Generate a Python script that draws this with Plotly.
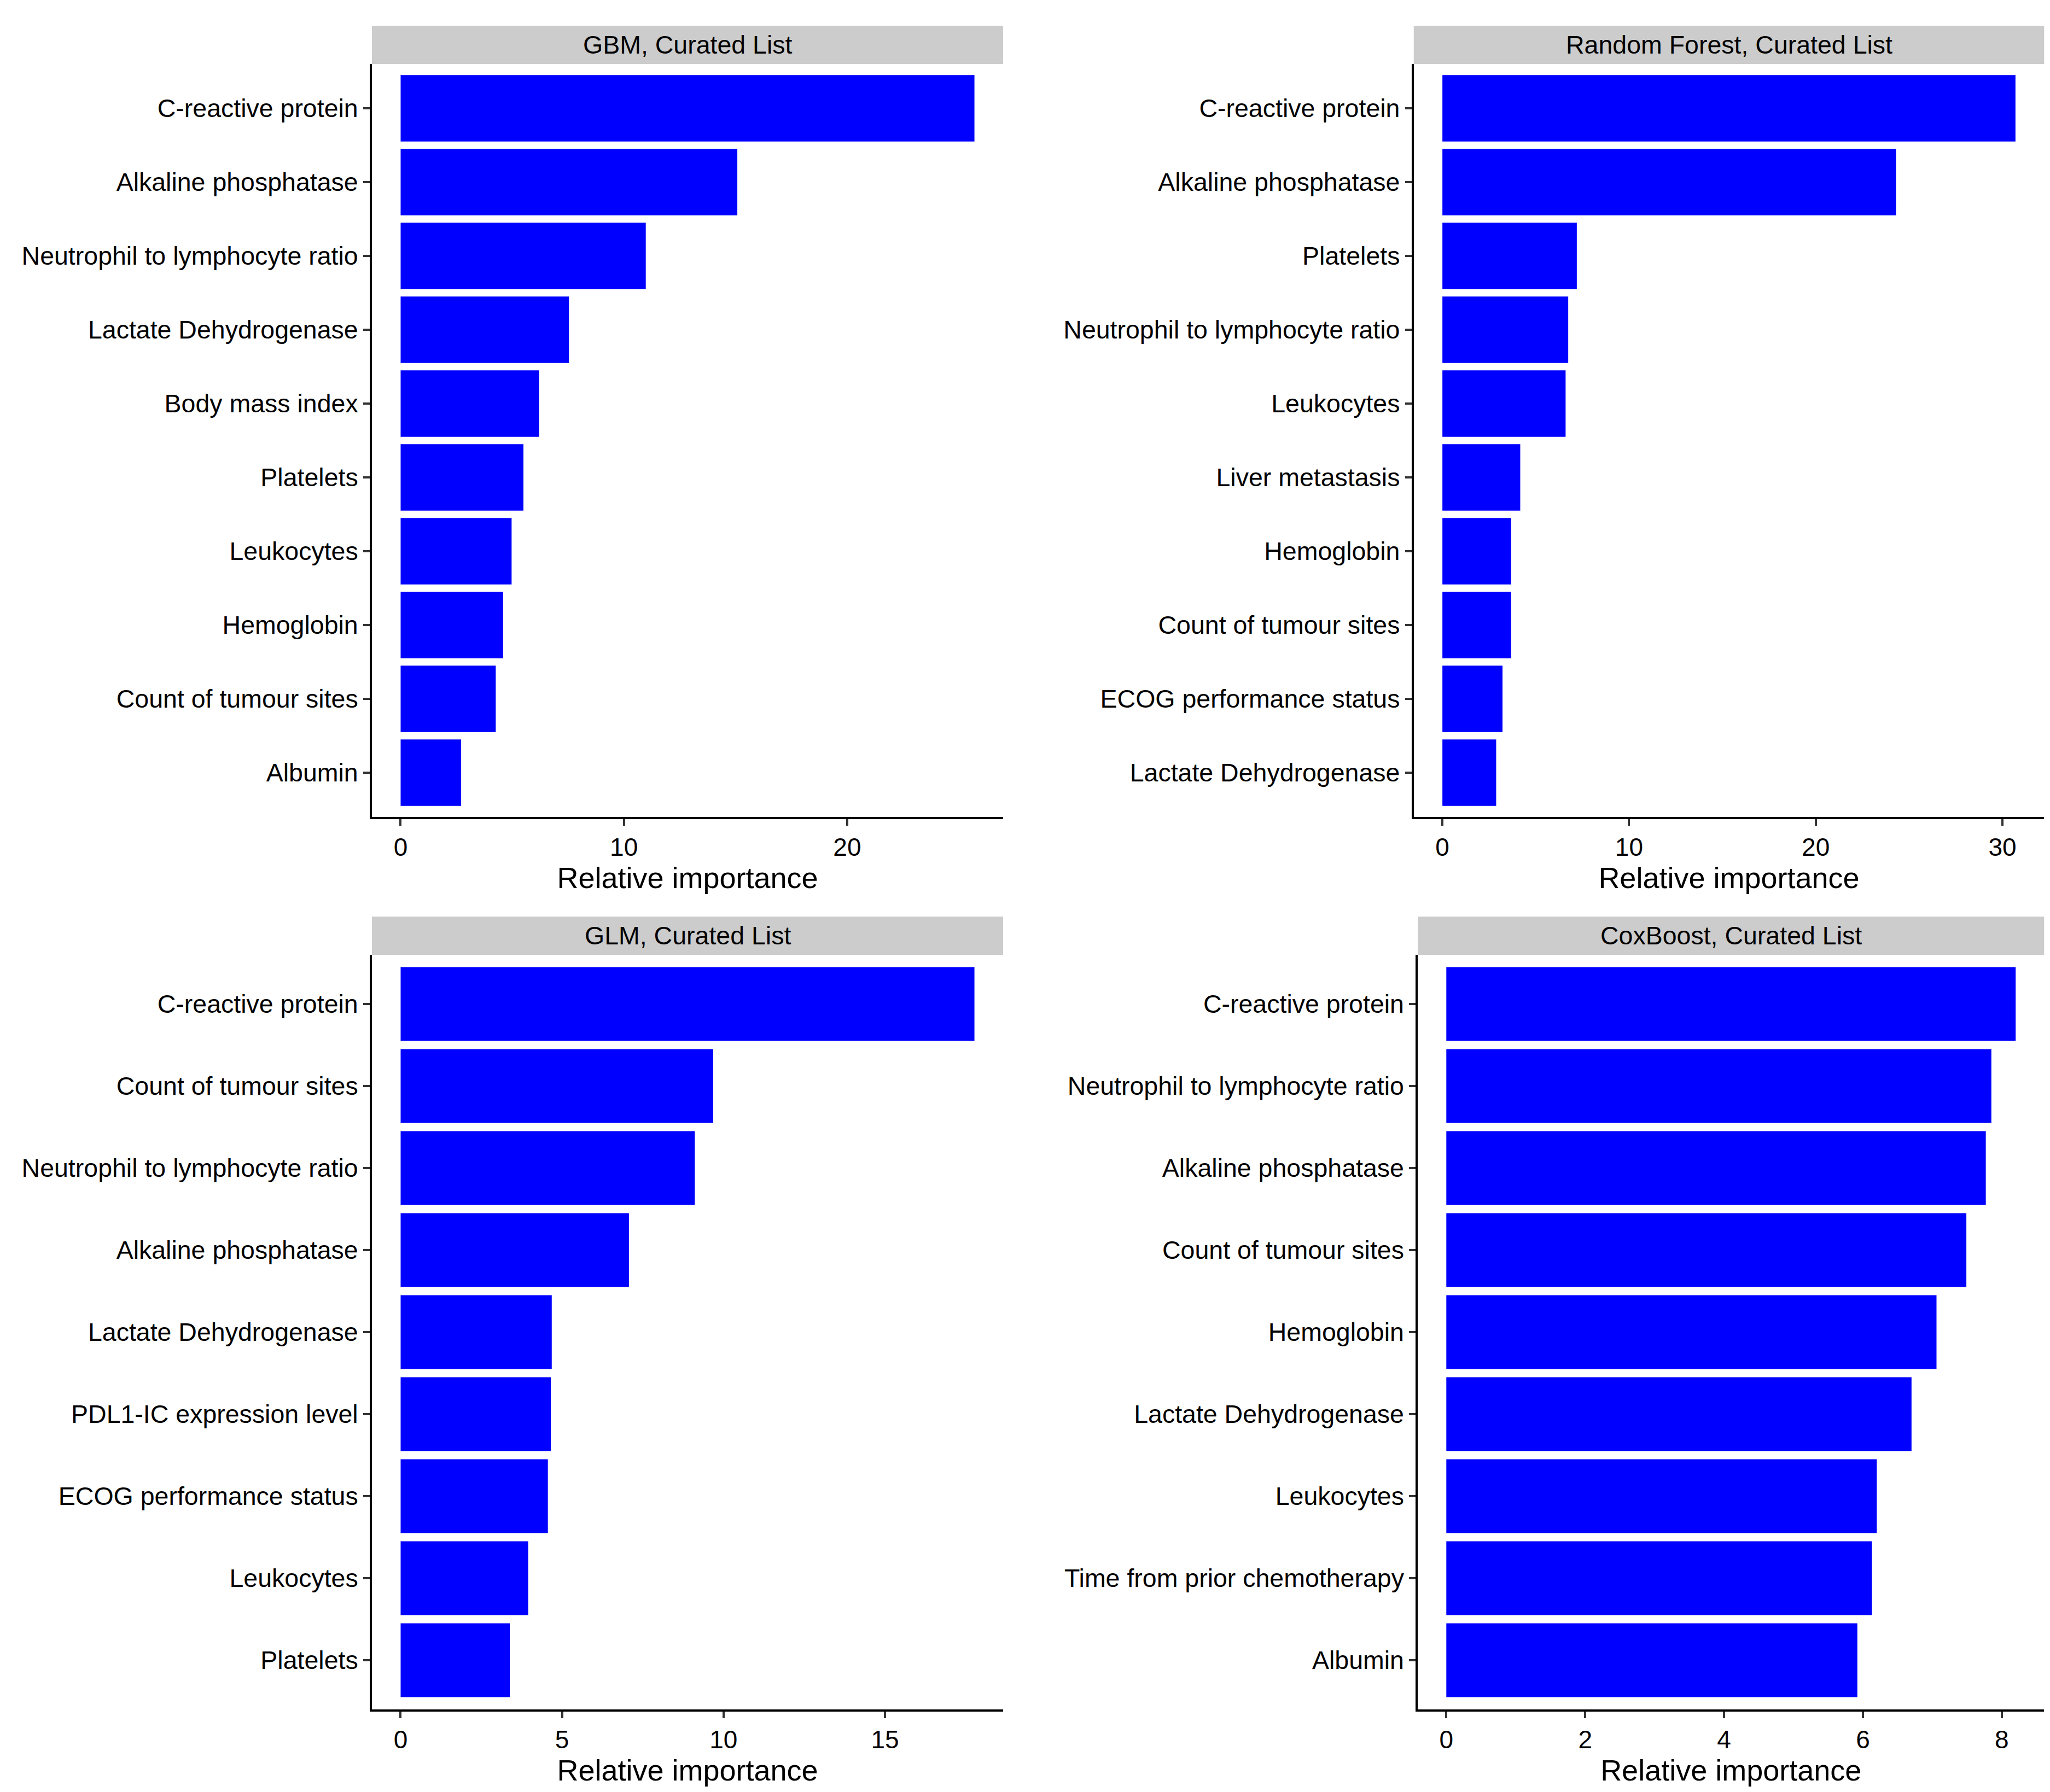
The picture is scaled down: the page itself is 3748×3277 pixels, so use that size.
import plotly.graph_objects as go

# Relative importance per model (top feature first)
gbm_features = ['C-reactive protein', 'Alkaline phosphatase', 'Neutrophil to lymphocyte ratio',
                'Lactate Dehydrogenase', 'Body mass index', 'Platelets', 'Leukocytes',
                'Hemoglobin', 'Count of tumour sites', 'Albumin']
gbm_values = [25.7, 15.08, 10.98, 7.54, 6.2, 5.5, 4.97, 4.59, 4.26, 2.71]

rf_features = ['C-reactive protein', 'Alkaline phosphatase', 'Platelets',
               'Neutrophil to lymphocyte ratio', 'Leukocytes', 'Liver metastasis',
               'Hemoglobin', 'Count of tumour sites', 'ECOG performance status',
               'Lactate Dehydrogenase']
rf_values = [30.7, 24.3, 7.2, 6.74, 6.6, 4.17, 3.68, 3.68, 3.22, 2.88]

glm_features = ['C-reactive protein', 'Count of tumour sites', 'Neutrophil to lymphocyte ratio',
                'Alkaline phosphatase', 'Lactate Dehydrogenase', 'PDL1-IC expression level',
                'ECOG performance status', 'Leukocytes', 'Platelets']
glm_values = [17.77, 9.68, 9.11, 7.07, 4.68, 4.65, 4.56, 3.95, 3.38]

cox_features = ['C-reactive protein', 'Neutrophil to lymphocyte ratio', 'Alkaline phosphatase',
                'Count of tumour sites', 'Hemoglobin', 'Lactate Dehydrogenase', 'Leukocytes',
                'Time from prior chemotherapy', 'Albumin']
cox_values = [8.2, 7.85, 7.77, 7.49, 7.06, 6.7, 6.2, 6.13, 5.92]

panels = [
    ('GBM, Curated List', gbm_features, gbm_values, 10, [0.1793, 0.4872], [0.5465, 0.9667]),
    ('Random Forest, Curated List', rf_features, rf_values, 10, [0.6875, 0.995], [0.5465, 0.9667]),
    ('GLM, Curated List', glm_features, glm_values, 5, [0.1793, 0.4872], [0.0485, 0.4696]),
    ('CoxBoost, Curated List', cox_features, cox_values, 2, [0.6895, 0.995], [0.0485, 0.4696]),
]

FONT = 'Liberation Sans, Arial, sans-serif'

fig = go.Figure()
layout = {}
shapes = []
annotations = []

for i, (title, feats, vals, step, xdom, ydom) in enumerate(panels, start=1):
    xa = 'x' if i == 1 else f'x{i}'
    ya = 'y' if i == 1 else f'y{i}'
    fig.add_trace(go.Bar(
        x=vals, y=feats, orientation='h', width=0.9,
        marker=dict(color='#0000FF', line=dict(width=0)),
        xaxis=xa, yaxis=ya, showlegend=False,
    ))
    vmax = max(vals)
    n = len(feats)
    layout['xaxis' if i == 1 else f'xaxis{i}'] = dict(
        domain=xdom, anchor=ya, range=[-0.05 * vmax, 1.05 * vmax],
        tickmode='linear', tick0=0, dtick=step,
        showline=True, linecolor='black', linewidth=4, mirror=False,
        ticks='outside', ticklen=12, tickwidth=4, tickcolor='#333333',
        showgrid=False, zeroline=False, automargin=False,
        tickfont=dict(family=FONT, size=46, color='black'),
        title=dict(text='Relative importance', standoff=4,
                   font=dict(family=FONT, size=54, color='black')),
    )
    layout['yaxis' if i == 1 else f'yaxis{i}'] = dict(
        domain=ydom, anchor=xa, type='category',
        categoryorder='array', categoryarray=feats[::-1],
        range=[-0.6, n - 0.4],
        showline=True, linecolor='black', linewidth=4,
        ticks='outside', ticklen=12, tickwidth=4, tickcolor='#333333',
        showgrid=False, zeroline=False, automargin=False,
        tickfont=dict(family=FONT, size=46.5, color='black'),
    )
    # facet strip
    shapes.append(dict(type='rect', xref='paper', yref='paper',
                       x0=xdom[0], x1=xdom[1], y0=ydom[1], y1=ydom[1] + 0.0213,
                       fillcolor='#CCCCCC', line=dict(width=0), layer='below'))
    annotations.append(dict(text=title, xref='paper', yref='paper',
                            x=(xdom[0] + xdom[1]) / 2, y=ydom[1] + 0.0107,
                            xanchor='center', yanchor='middle', showarrow=False,
                            font=dict(family=FONT, size=46.5, color='black')))

fig.update_layout(
    width=3748, height=3277,
    margin=dict(l=0, r=0, t=0, b=0),
    paper_bgcolor='white', plot_bgcolor='white',
    bargap=0.1,
    shapes=shapes, annotations=annotations,
    **layout,
)

fig.write_html("out.html")
